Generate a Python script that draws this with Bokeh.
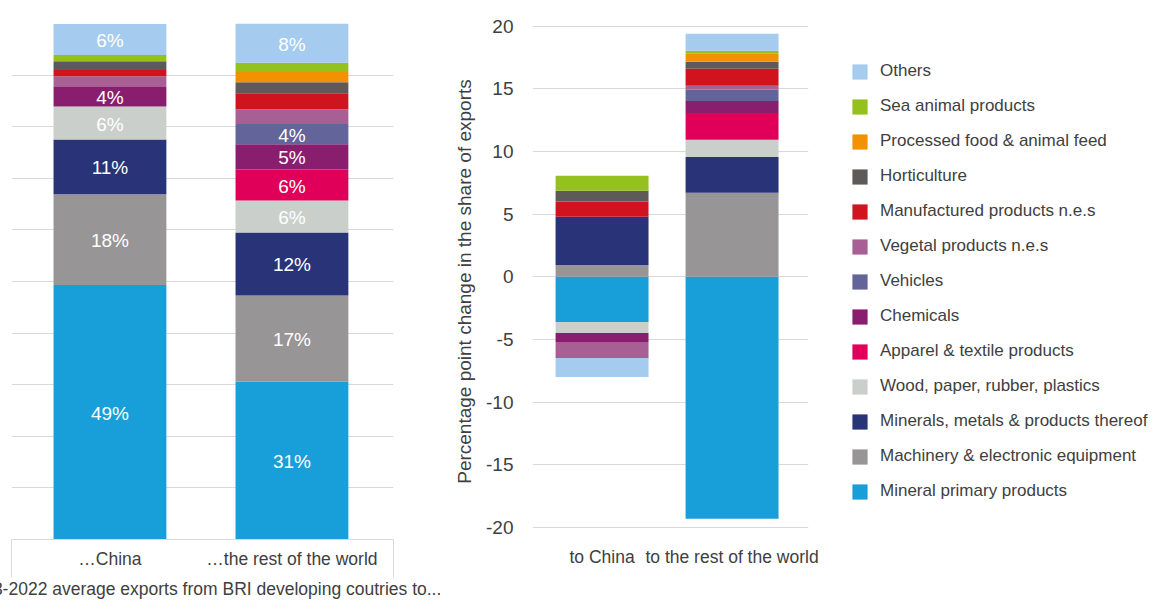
import numpy as np
from bokeh.plotting import figure
from bokeh.models import (Range1d, FixedTicker, SingleIntervalTicker, LinearAxis,
                          Grid, Legend, LegendItem, CustomJSTickFormatter)
from bokeh.layouts import row
from bokeh.core.properties import value
from bokeh.embed import file_html
from bokeh.resources import INLINE

# ---------------- data ----------------
series = [
    "Mineral primary products",
    "Machinery & electronic equipment",
    "Minerals, metals & products thereof",
    "Wood, paper, rubber, plastics",
    "Apparel & textile products",
    "Chemicals",
    "Vehicles",
    "Vegetal products n.e.s",
    "Manufactured products n.e.s",
    "Horticulture",
    "Processed food & animal feed",
    "Sea animal products",
    "Others",
]
colors = ["#189fda", "#979596", "#283378", "#cbcfcc", "#e0005a", "#8a1e6e",
          "#62649a", "#a85f94", "#cf141f", "#5e5a5a", "#f39200", "#95c11f", "#a5cbee"]

share_cats = ["…China", "…the rest of the world"]
share_china = [49.3, 17.6, 10.6, 6.4, 0.0, 3.8, 0.0, 2.1, 1.2, 1.7, 0.0, 1.2, 6.0]
share_world = [30.6, 16.7, 12.2, 6.2, 6.0, 4.9, 3.9, 2.9, 3.1, 2.1, 2.0, 1.8, 7.6]
share_title = "2013-2022 average exports from BRI developing coutries to..."

change_cats = ["to China", "to the rest of the world"]
change_china = [-3.6, 0.95, 3.85, -0.88, 0.0, -0.72, 0.0, -1.28, 1.22, 0.85, 0.0, 1.2, -1.52]
change_world = [-19.3, 6.7, 2.87, 1.36, 2.15, 0.96, 0.88, 0.32, 1.36, 0.56, 0.64, 0.24, 1.36]
change_title = "Percentage point change in the share of exports"

FONT = "Liberation Sans"
TXT = "#404040"
GRID = "#d9d9d9"

# ---------------- left chart: shares ----------------
x1_start, x1_end = -0.541, 1.558
p1 = figure(width=440, height=601, x_range=Range1d(x1_start, x1_end), y_range=Range1d(0, 100),
            output_backend="svg", toolbar_location=None,
            x_axis_location=None, y_axis_location=None,
            min_border_left=11, min_border_right=47, min_border_top=23, min_border_bottom=62)
p1.outline_line_color = None
p1.grid.visible = False
p1.add_layout(Grid(dimension=1, ticker=SingleIntervalTicker(interval=10),
                   grid_line_color=GRID, grid_line_width=1))

xs1 = np.arange(len(share_cats))
shares = np.array([share_china, share_world], dtype=float)
tops = np.cumsum(shares, axis=1)
bots = tops - shares
for i, name in enumerate(series):
    p1.vbar(x=xs1, bottom=bots[:, i], top=tops[:, i], width=0.62,
            fill_color=colors[i], line_color=None)

lx, ly, lt = [], [], []
for c in range(len(share_cats)):
    for i in range(len(series)):
        v = shares[c, i]
        if v >= 3.5:
            lx.append(float(xs1[c]))
            ly.append(float((bots[c, i] + tops[c, i]) / 2))
            lt.append(f"{v:.0f}%")
p1.text(x=lx, y=ly, text=lt, text_color="white", text_font=value(FONT),
        text_font_size="19px", text_align="center", text_baseline="middle", y_offset=1)

xa1 = LinearAxis(ticker=FixedTicker(ticks=[float(v) for v in xs1], minor_ticks=[x1_start, x1_end]),
                 major_label_overrides={int(i): c for i, c in enumerate(share_cats)})
xa1.axis_line_color = GRID
xa1.major_tick_line_color = None
xa1.major_tick_out = 0
xa1.major_tick_in = 0
xa1.minor_tick_line_color = GRID
xa1.minor_tick_out = 38
xa1.minor_tick_in = 0
xa1.major_label_standoff = -29
xa1.major_label_text_font = FONT
xa1.major_label_text_font_size = "17.5px"
xa1.major_label_text_color = TXT
xa1.axis_label = share_title
xa1.axis_label_text_font = FONT
xa1.axis_label_text_font_size = "17.5px"
xa1.axis_label_text_font_style = "normal"
xa1.axis_label_text_color = TXT
xa1.axis_label_text_baseline = "middle"
xa1.axis_label_standoff = 7
p1.add_layout(xa1, "below")

# ---------------- right chart: change ----------------
x2_start, x2_end = -0.535, 1.588
p2 = figure(width=390, height=601, x_range=Range1d(x2_start, x2_end),
            y_range=Range1d(-20.96, 20.215),
            output_backend="svg", toolbar_location=None,
            x_axis_location=None, y_axis_location=None,
            min_border_left=92, min_border_right=22, min_border_top=23, min_border_bottom=62)
p2.outline_line_color = None
p2.grid.visible = False
p2.add_layout(Grid(dimension=1, ticker=SingleIntervalTicker(interval=5),
                   grid_line_color=GRID, grid_line_width=1))

xs2 = np.arange(len(change_cats))
chg = np.array([change_china, change_world], dtype=float)
pos = np.where(chg > 0, chg, 0.0)
neg = np.where(chg < 0, chg, 0.0)
pos_top = np.cumsum(pos, axis=1)
pos_bot = pos_top - pos
neg_bot = np.cumsum(neg, axis=1)
neg_top = neg_bot - neg
ctop = np.where(chg >= 0, pos_top, neg_top)
cbot = np.where(chg >= 0, pos_bot, neg_bot)

for i, name in enumerate(series):
    p2.vbar(x=xs2, bottom=cbot[:, i], top=ctop[:, i], width=0.715,
            fill_color=colors[i], line_color=None)

ya2 = LinearAxis(ticker=SingleIntervalTicker(interval=5, num_minor_ticks=0),
                 formatter=CustomJSTickFormatter(code="return tick.toFixed(0);"))
ya2.axis_line_color = None
ya2.major_tick_line_color = None
ya2.minor_tick_line_color = None
ya2.major_tick_out = 0
ya2.major_tick_in = 0
ya2.major_label_standoff = 19
ya2.major_label_text_font = FONT
ya2.major_label_text_font_size = "19px"
ya2.major_label_text_color = TXT
ya2.axis_label = change_title
ya2.axis_label_text_font = FONT
ya2.axis_label_text_font_size = "19px"
ya2.axis_label_text_font_style = "normal"
ya2.axis_label_text_color = TXT
ya2.axis_label_standoff = 8
p2.add_layout(ya2, "left")

xa2 = LinearAxis(ticker=FixedTicker(ticks=[float(v) for v in xs2]),
                 major_label_overrides={int(i): c for i, c in enumerate(change_cats)})
xa2.axis_line_color = None
xa2.major_tick_line_color = None
xa2.minor_tick_line_color = None
xa2.major_tick_out = 0
xa2.major_tick_in = 0
xa2.major_label_standoff = 7
xa2.major_label_text_font = FONT
xa2.major_label_text_font_size = "17.5px"
xa2.major_label_text_color = TXT
p2.add_layout(xa2, "below")

# ---------------- legend panel ----------------
# legend proxies: zero-size boxes, one per series (nothing visible in the frame)
p3 = figure(width=328, height=601, x_range=Range1d(0, 1), y_range=Range1d(0, 1),
            output_backend="svg", toolbar_location=None,
            x_axis_location=None, y_axis_location=None,
            min_border_left=0, min_border_right=0, min_border_top=23, min_border_bottom=62)
p3.outline_line_color = None
p3.grid.visible = False
legend_rends = []
for i, name in enumerate(series):
    legend_rends.append(p3.vbar(x=[0.5], bottom=[0.5], top=[0.5], width=0.0,
                                fill_color=colors[i], line_color=None))

items = [LegendItem(label=s, renderers=[r]) for s, r in zip(series, legend_rends)][::-1]
legend = Legend(items=items, location=(20, 38), orientation="vertical",
                glyph_width=19, glyph_height=19, label_height=19, label_width=10,
                spacing=15, label_standoff=11, padding=0, margin=0,
                border_line_color=None, background_fill_alpha=0,
                label_text_font=FONT, label_text_font_size="17px", label_text_color=TXT)
p3.add_layout(legend, "center")

layout = row(p1, p2, p3)

open("out.html", "w").write(file_html(layout, INLINE))
